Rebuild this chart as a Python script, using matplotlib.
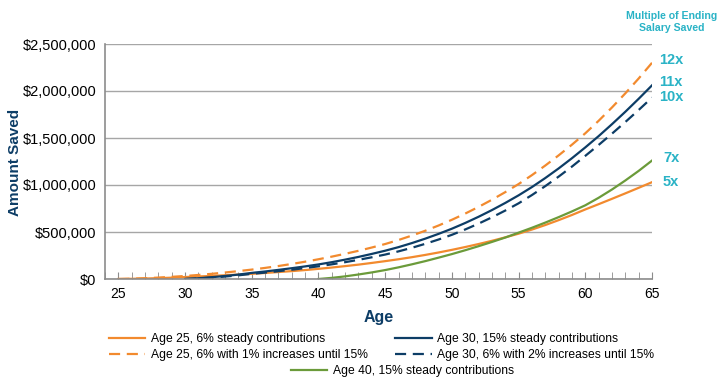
import matplotlib
matplotlib.use("Agg")
import matplotlib.pyplot as plt
from matplotlib.ticker import FuncFormatter, MultipleLocator

plt.rcParams['font.family'] = ['Liberation Sans', 'DejaVu Sans']

ages_25 = list(range(25, 66))
ages_30 = list(range(30, 66))
ages_40 = list(range(40, 66))

# values in thousands of dollars
age25_steady = [0, 2, 5, 9, 14, 21, 27, 33, 40, 47, 55, 64, 74, 84, 95, 108, 122, 137, 153, 171,
                190, 210, 232, 256, 282, 310, 340, 372, 406, 443, 482, 526, 574, 626, 681, 740,
                796, 853, 911, 970, 1030]
age25_increase = [0, 3, 8, 15, 23, 32, 43, 55, 69, 84, 100, 118, 138, 160, 184, 210, 238, 268, 300,
                  335, 372, 415, 462, 513, 569, 630, 696, 767, 843, 924, 1010, 1105, 1207, 1315,
                  1429, 1550, 1683, 1825, 1975, 2133, 2300]
age30_steady = [0, 8, 19, 32, 47, 65, 80, 97, 115, 134, 155, 179, 206, 235, 267, 301, 339, 382,
                429, 480, 535, 596, 662, 733, 809, 890, 978, 1074, 1176, 1285, 1400, 1520, 1647,
                1779, 1917, 2060]
age30_increase = [0, 6, 15, 26, 39, 55, 68, 83, 99, 116, 135, 156, 179, 204, 231, 260, 294, 332,
                  374, 420, 470, 527, 589, 656, 728, 805, 893, 988, 1089, 1196, 1310, 1426, 1546,
                  1670, 1798, 1930]
age40_steady = [0, 12, 28, 48, 70, 95, 124, 156, 190, 227, 265, 306, 349, 394, 441, 493, 545, 600,
                658, 719, 784, 864, 952, 1048, 1150, 1260]

multiples = ["12x", "11x", "10x", "7x", "5x"]
multiple_y = [2330, 2100, 1940, 1290, 1030]

labels = ["Age 25, 6% steady contributions",
          "Age 25, 6% with 1% increases until 15%",
          "Age 30, 15% steady contributions",
          "Age 30, 6% with 2% increases until 15%",
          "Age 40, 15% steady contributions"]

ORANGE = "#f28a2e"
NAVY = "#0d3d66"
GREEN = "#6b9b3a"
TEAL = "#2ab3c6"
GRID = "#a6a6a6"

fig = plt.figure(figsize=(7.2, 3.81), dpi=100)
ax = fig.add_axes([105/720, 1-279/381, (652-105)/720, (279-44)/381])

def k(v):
    return [x * 1000 for x in v]

lw = 1.6
dash = (0, (5, 3))
l1, = ax.plot(ages_25, k(age25_steady), color=ORANGE, lw=lw)
l2, = ax.plot(ages_25, k(age25_increase), color=ORANGE, lw=lw, linestyle=dash)
l3, = ax.plot(ages_30, k(age30_steady), color=NAVY, lw=lw)
l4, = ax.plot(ages_30, k(age30_increase), color=NAVY, lw=lw, linestyle=dash)
l5, = ax.plot(ages_40, k(age40_steady), color=GREEN, lw=lw)

ax.set_xlim(24, 65)
ax.set_ylim(0, 2500000)
ax.yaxis.set_major_locator(MultipleLocator(500000))
ax.xaxis.set_minor_locator(MultipleLocator(1))
ax.set_xticks(range(25, 66, 5))
ax.yaxis.set_major_formatter(FuncFormatter(lambda v, p: "${:,.0f}".format(v)))
ax.grid(axis='y', color=GRID, lw=1.0)
ax.set_axisbelow(True)
for s in ['top', 'right']:
    ax.spines[s].set_visible(False)
for s in ['left', 'bottom']:
    ax.spines[s].set_color("#8c8c8c")
    ax.spines[s].set_linewidth(1.2)
ax.tick_params(axis='y', length=0, labelsize=10.5, pad=6)
ax.tick_params(axis='x', which='both', direction='in', length=5, color="#8c8c8c",
               labelsize=10, pad=6)

ax.set_xlabel("Age", fontsize=11.5, fontweight='bold', color=NAVY, labelpad=6)
fig.text(15/720, 1-162/381, "Amount Saved", rotation=90, fontsize=11, fontweight='bold',
         color=NAVY, ha='center', va='center')

for m, y in zip(multiples, multiple_y):
    ax.text(66.43, y * 1000, m, color=TEAL, fontsize=10.5, fontweight='bold',
            va='center', ha='center', clip_on=False)

fig.text(672/720, 1-22/381, "Multiple of Ending\nSalary Saved", color=TEAL, fontsize=7.6,
         fontweight='bold', ha='center', va='center', linespacing=1.2)

leg1 = fig.legend([l1, l2, l3, l4], labels[:4], ncol=2, frameon=False,
                  loc='upper left', bbox_to_anchor=(103/720, 1-327/381),
                  fontsize=8.7, handlelength=3.0, columnspacing=2.3,
                  labelspacing=0.32, handletextpad=0.45, borderpad=0)
leg2 = fig.legend([l5], labels[4:], frameon=False, loc='upper left',
                  bbox_to_anchor=(285/720, 1-359/381), fontsize=8.7,
                  handlelength=3.0, handletextpad=0.45, borderpad=0)

fig.savefig("out.png", dpi=100)
